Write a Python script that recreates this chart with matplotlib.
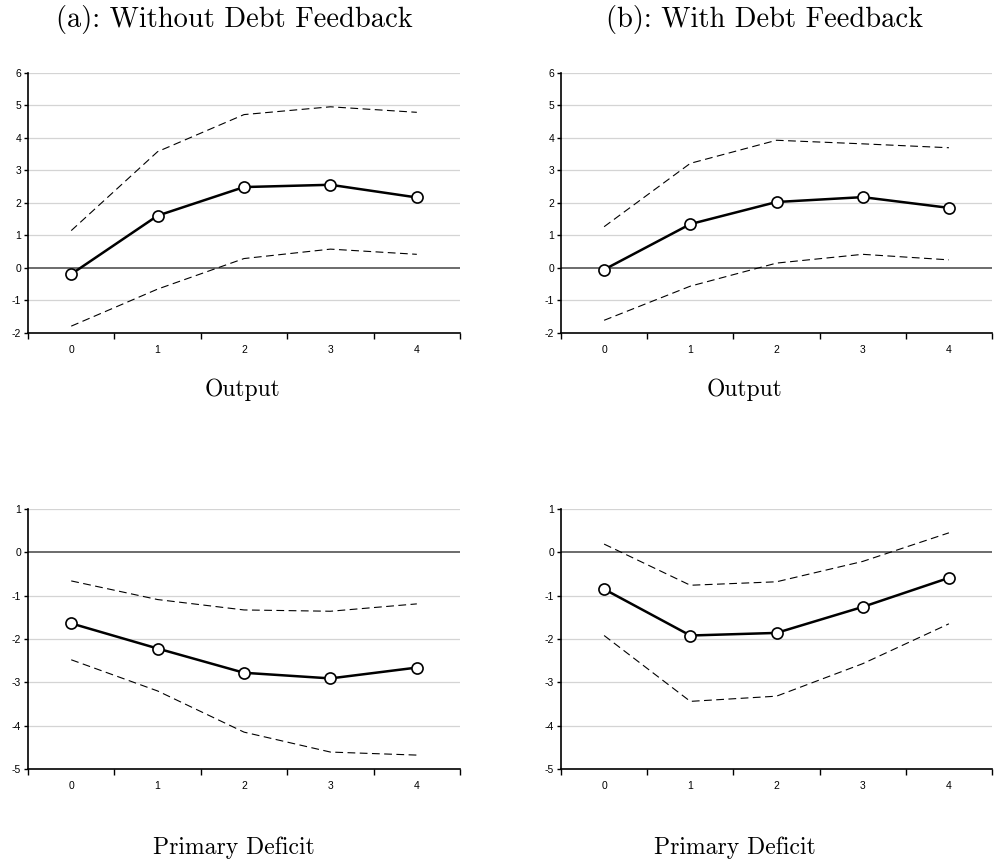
import matplotlib
matplotlib.use("Agg")
import matplotlib.pyplot as plt

plt.rcParams['font.family'] = ['Liberation Sans', 'DejaVu Sans']
plt.rcParams['axes.unicode_minus'] = False

horizons = [0, 1, 2, 3, 4]

# Output, without debt feedback
out_a_mid = [-0.19, 1.61, 2.49, 2.56, 2.17]
out_a_hi = [1.15, 3.58, 4.72, 4.96, 4.79]
out_a_lo = [-1.79, -0.65, 0.29, 0.58, 0.42]

# Output, with debt feedback
out_b_mid = [-0.05, 1.35, 2.03, 2.18, 1.85]
out_b_hi = [1.27, 3.22, 3.93, 3.82, 3.70]
out_b_lo = [-1.61, -0.56, 0.15, 0.42, 0.25]

# Primary deficit, without debt feedback
def_a_mid = [-1.64, -2.22, -2.78, -2.91, -2.66]
def_a_hi = [-0.66, -1.09, -1.33, -1.36, -1.19]
def_a_lo = [-2.48, -3.20, -4.15, -4.61, -4.68]

# Primary deficit, with debt feedback
def_b_mid = [-0.85, -1.92, -1.86, -1.26, -0.59]
def_b_hi = [0.19, -0.76, -0.68, -0.21, 0.45]
def_b_lo = [-1.92, -3.44, -3.32, -2.57, -1.65]

titles = ["(a): Without Debt Feedback", "(b): With Debt Feedback"]
row_labels = ["Output", "Primary Deficit"]
out_ticks = [-2, -1, 0, 1, 2, 3, 4, 5, 6]
def_ticks = [-5, -4, -3, -2, -1, 0, 1]

fig = plt.figure(figsize=(9.94, 8.68), dpi=100)


def irf_panel(rect, mid, hi, lo, yticks):
    ax = fig.add_axes(rect)
    for y in yticks[1:]:
        if y == 0:
            ax.axhline(0, color='#444444', lw=1.1, zorder=1)
        else:
            ax.axhline(y, color='#d4d4d4', lw=0.9, zorder=0)
    ax.plot(horizons, hi, color='black', lw=0.8, dashes=(7, 4), zorder=2)
    ax.plot(horizons, lo, color='black', lw=0.8, dashes=(7, 4), zorder=2)
    ax.plot(horizons, mid, color='black', lw=1.8, marker='o', ms=8,
            mfc='white', mec='black', mew=1.2, zorder=3)
    ax.set_xlim(-0.5, 4.5)
    ax.set_ylim(yticks[0], yticks[-1])
    ax.set_yticks(yticks)
    ax.set_yticklabels([str(v) for v in yticks])
    ax.set_xticks([h + 0.5 for h in [-1] + horizons])
    ax.set_xticklabels([])
    ax.set_xticks(horizons, minor=True)
    ax.set_xticklabels([str(h) for h in horizons], minor=True)
    ax.tick_params(axis='x', which='minor', length=0, pad=9, labelsize=7.5)
    ax.tick_params(axis='x', which='major', length=4, width=1, direction='out')
    ax.tick_params(axis='y', length=3, width=1, pad=2, labelsize=7.5)
    for s in ['top', 'right']:
        ax.spines[s].set_visible(False)
    for s in ['left', 'bottom']:
        ax.spines[s].set_linewidth(1.2)
    return ax


irf_panel([0.0282, 0.6164, 0.4346, 0.2995], out_a_mid, out_a_hi, out_a_lo, out_ticks)
irf_panel([0.5644, 0.6164, 0.4336, 0.2995], out_b_mid, out_b_hi, out_b_lo, out_ticks)
irf_panel([0.0282, 0.1141, 0.4346, 0.2995], def_a_mid, def_a_hi, def_a_lo, def_ticks)
irf_panel([0.5644, 0.1141, 0.4336, 0.2995], def_b_mid, def_b_hi, def_b_lo, def_ticks)

for xc, t in zip([234 / 994, 765 / 994], titles):
    fig.text(xc, 1 - 20 / 868, t, ha='center', va='center', fontsize=20.5,
             family='cmr10')
for xc in [243 / 994, 745 / 994]:
    fig.text(xc, 1 - 390 / 868, row_labels[0], ha='center', va='center',
             fontsize=17, family='cmr10')
for xc in [234 / 994, 735 / 994]:
    fig.text(xc, 1 - 848 / 868, row_labels[1], ha='center', va='center',
             fontsize=17, family='cmr10')

fig.savefig('out.png', dpi=100)
